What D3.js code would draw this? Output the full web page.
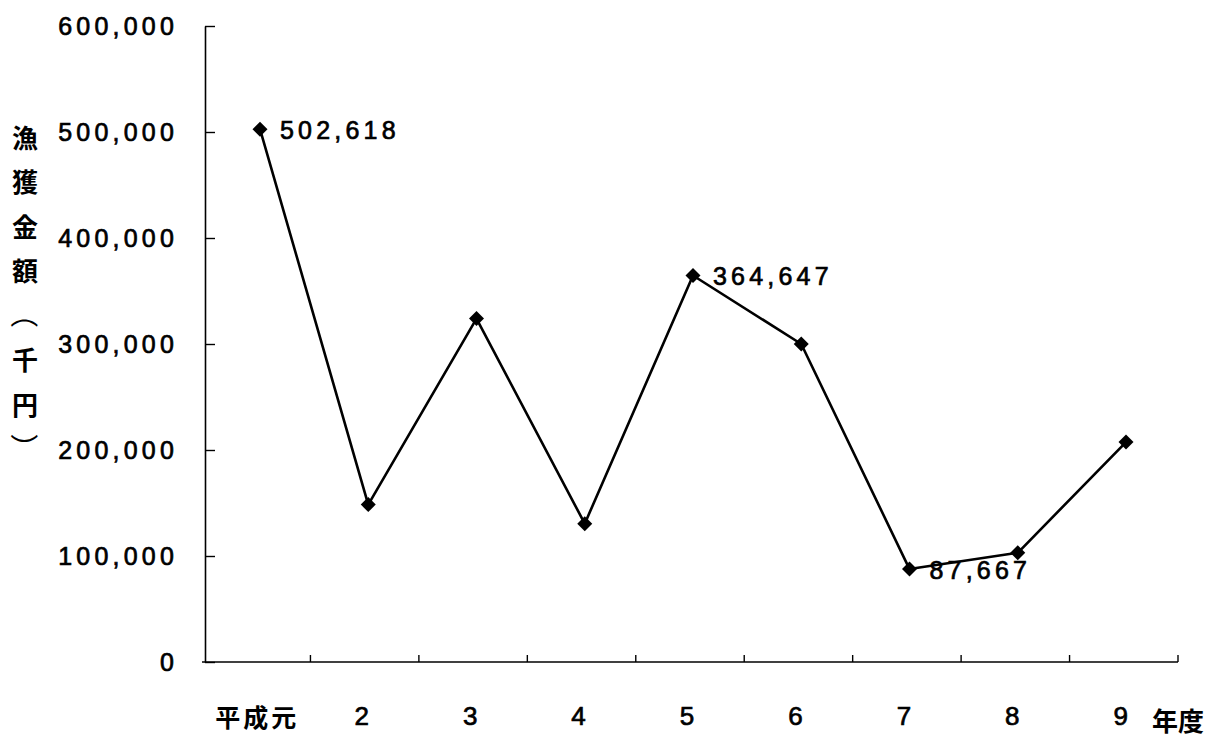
<!DOCTYPE html>
<html>
<head>
<meta charset="utf-8">
<script src="https://cdn.jsdelivr.net/npm/d3@7"></script>
<style>
  html, body { margin: 0; padding: 0; background: #fff; }
  svg { display: block; }
  .num { font-family: "Liberation Sans", Arial, sans-serif; font-size: 25px; letter-spacing: 4.2px; fill: #000; stroke: #000; stroke-width: 0.7px; }
  .cjk { font-family: "Noto Sans CJK JP", sans-serif; font-weight: 700; fill: #000; }
</style>
</head>
<body>
<script>
// ---- data ----
const categories = ["平成元", "2", "3", "4", "5", "6", "7", "8", "9"];
const values = [502618, 148500, 324000, 130500, 364647, 300000, 87667, 103000, 207500];
const labelledIndexes = [0, 4, 6];
const yTicks = [0, 100000, 200000, 300000, 400000, 500000, 600000];
const yTitleChars = ["漁", "獲", "金", "額", "（", "千", "円", "）"];
const xUnit = "年度";

const W = 1216, H = 743;
const svg = d3.select("body").append("svg").attr("width", W).attr("height", H);

const x = d3.scaleBand().domain(categories).range([202, 1178]);
const xp = d3.scalePoint().domain(categories).range([260, 1126]);
const y = d3.scaleLinear().domain([0, 600000]).range([662, 26]);

// y axis
const yAxis = d3.axisLeft(y)
  .tickValues(yTicks)
  .tickSize(-10)
  .tickSizeOuter(0)
  .tickPadding(27)
  .tickFormat(d3.format(","));
const gy = svg.append("g").attr("transform", "translate(205,0)").call(yAxis);
gy.select(".domain").attr("stroke", "#000").attr("stroke-width", 1.6);
gy.selectAll(".tick line").attr("stroke", "#000").attr("stroke-width", 1.4);
gy.selectAll(".tick text").attr("class", "num").attr("font-size", null).attr("font-family", null).attr("fill", null);

// x axis line
svg.append("line")
  .attr("x1", x.range()[0]).attr("x2", x.range()[1])
  .attr("y1", y(0)).attr("y2", y(0))
  .attr("stroke", "#000").attr("stroke-width", 1.6);
// boundary ticks (pointing up)
const bounds = categories.map((c) => x(c) + x.bandwidth());
svg.selectAll(".xtick").data(bounds).enter().append("line")
  .attr("x1", d => d).attr("x2", d => d)
  .attr("y1", y(0)).attr("y2", y(0) - 7)
  .attr("stroke", "#000").attr("stroke-width", 1.4);

// x labels
svg.selectAll(".xlab").data(categories).enter().append("text")
  .attr("x", (d, i) => x(d) + x.bandwidth() / 2 + (i === 0 ? 1 : -3))
  .attr("y", 716)
  .attr("dominant-baseline", "central")
  .attr("text-anchor", "middle")
  .attr("class", (d, i) => i === 0 ? "cjk" : "num")
  .style("font-size", (d, i) => i === 0 ? "25px" : "26px")
  .style("letter-spacing", (d, i) => i === 0 ? "3px" : "0px")
  .text(d => d);

svg.append("text")
  .attr("class", "cjk")
  .attr("x", 1152).attr("y", 719)
  .attr("dominant-baseline", "central")
  .style("font-size", "26px")
  .text(xUnit);

// y title (vertical); brackets rotated as in vertical writing
const isBracket = i => i === 4 || i === 7;
svg.selectAll(".ytitle").data(yTitleChars).enter().append("text")
  .attr("class", "cjk")
  .attr("transform", (d, i) => `translate(25,${136 + i * 44.5})` + (isBracket(i) ? " rotate(90)" : ""))
  .attr("text-anchor", "middle")
  .attr("dominant-baseline", "central")
  .style("font-size", (d, i) => isBracket(i) ? "28px" : "26px")
  .style("font-weight", (d, i) => isBracket(i) ? "400" : null)
  .text(d => d);

// line
const line = d3.line()
  .x((d, i) => xp(categories[i]))
  .y(d => y(d));
svg.append("path")
  .datum(values)
  .attr("d", line)
  .attr("fill", "none")
  .attr("stroke", "#000")
  .attr("stroke-width", 2.6)
  .attr("stroke-linejoin", "round");

// markers
svg.selectAll(".mk").data(values).enter().append("path")
  .attr("transform", (d, i) => `translate(${xp(categories[i])},${y(d)})`)
  .attr("d", "M0,-7.5L7.5,0L0,7.5L-7.5,0Z")
  .attr("fill", "#000");

// value labels
const fmt = d3.format(",");
svg.selectAll(".vlab").data(labelledIndexes).enter().append("text")
  .attr("class", "num")
  .attr("x", i => xp(categories[i]) + 20)
  .attr("y", i => y(values[i]) + 1)
  .attr("dominant-baseline", "central")
  .text(i => fmt(values[i]));
</script>
</body>
</html>
